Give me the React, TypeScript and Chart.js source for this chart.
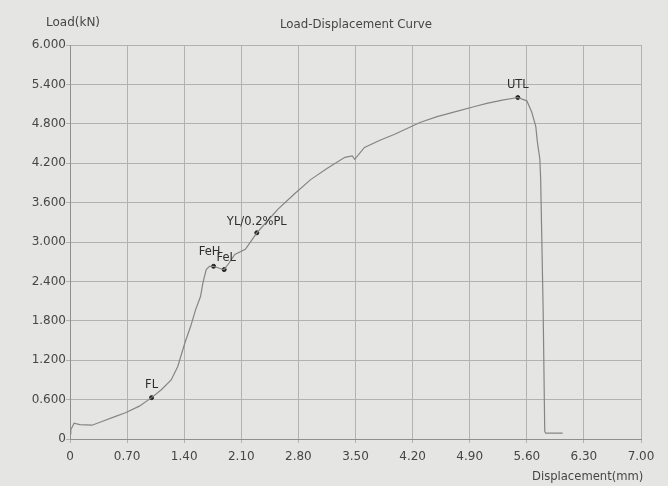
import React, { useEffect, useRef } from "react";
import { Chart, registerables } from "chart.js";

Chart.register(...registerables);

const displacement = [0, 0.01, 0.05, 0.12, 0.27, 0.4, 0.55, 0.68, 0.85, 1.0, 1.12, 1.24, 1.32, 1.41, 1.48, 1.54, 1.6, 1.63, 1.67, 1.71, 1.76, 1.83, 1.89, 1.95, 2.02, 2.15, 2.29, 2.42, 2.55, 2.75, 2.95, 3.15, 3.37, 3.46, 3.49, 3.61, 3.8, 3.98, 4.29, 4.5, 4.74, 4.95, 5.11, 5.3, 5.49, 5.6, 5.66, 5.71, 5.73, 5.76, 5.77, 5.8, 5.82, 5.83, 5.95, 6.04];
const load = [0.08, 0.14, 0.24, 0.22, 0.21, 0.27, 0.34, 0.4, 0.5, 0.63, 0.75, 0.9, 1.1, 1.47, 1.72, 1.97, 2.17, 2.38, 2.58, 2.63, 2.63, 2.6, 2.58, 2.68, 2.81, 2.89, 3.14, 3.32, 3.5, 3.73, 3.95, 4.12, 4.29, 4.31, 4.26, 4.44, 4.55, 4.64, 4.82, 4.91, 4.99, 5.06, 5.11, 5.16, 5.2, 5.15, 4.98, 4.76, 4.52, 4.26, 3.95, 2.0, 0.12, 0.09, 0.09, 0.09];

const markerNames = ["FL", "FeH", "FeL", "YL/0.2%PL", "UTL"];
const markerDisp = [1.0, 1.76, 1.89, 2.29, 5.49];
const markerLoad = [0.63, 2.63, 2.58, 3.14, 5.2];

const xTicks = [0, 0.7, 1.4, 2.1, 2.8, 3.5, 4.2, 4.9, 5.6, 6.3, 7.0];
const yTicks = [0, 0.6, 1.2, 1.8, 2.4, 3.0, 3.6, 4.2, 4.8, 5.4, 6.0];

const chartTitle = "Load-Displacement Curve";
const yTitle = "Load(kN)";
const xTitle = "Displacement(mm)";

const FONT = "'DejaVu Sans', sans-serif";
const TEXT = "#464646";

export default function App() {
  const ref = useRef<HTMLCanvasElement>(null);
  useEffect(() => {
    const canvas = ref.current!;
    const labelOffsets: Record<string, [number, number]> = {
      FL: [0, -13],
      FeH: [-4, -14],
      FeL: [2, -12],
      "YL/0.2%PL": [0, -11],
      UTL: [0, -13],
    };
    const decor = {
      id: "decor",
      beforeDraw(c: any) {
        const ctx = c.ctx;
        ctx.save();
        ctx.fillStyle = "#e5e6e3";
        ctx.fillRect(0, 0, c.width, c.height);
        ctx.restore();
      },
      afterDraw(c: any) {
        const ctx = c.ctx;
        ctx.save();
        ctx.fillStyle = TEXT;
        ctx.textBaseline = "middle";
        ctx.font = `11.8px ${FONT}`;
        ctx.textAlign = "center";
        ctx.fillText(chartTitle, 356, 25);
        ctx.font = `12px ${FONT}`;
        ctx.fillText(yTitle, 73, 23);
        ctx.font = `11.6px ${FONT}`;
        ctx.textAlign = "left";
        ctx.fillText(xTitle, 532, 477);
        const meta = c.getDatasetMeta(1);
        ctx.font = `11.5px ${FONT}`;
        ctx.fillStyle = "#2e2e2e";
        ctx.textAlign = "center";
        meta.data.forEach((p: any, i: number) => {
          const name = markerNames[i];
          const o = labelOffsets[name] || [0, -10];
          ctx.fillText(name, p.x + o[0], p.y + o[1]);
        });
        ctx.restore();
      },
    };
    const chart = new Chart(canvas, {
      type: "scatter",
      data: {
        datasets: [
          {
            data: displacement.map((d, i) => ({ x: d, y: load[i] })),
            showLine: true,
            borderColor: "#858585",
            borderWidth: 1.2,
            pointRadius: 0,
            tension: 0,
          },
          {
            data: markerDisp.map((d, i) => ({ x: d, y: markerLoad[i] })),
            showLine: false,
            pointRadius: 2,
            backgroundColor: "#222",
            borderColor: "#222",
          },
        ],
      },
      options: {
        animation: false,
        responsive: false,
        maintainAspectRatio: false,
        layout: { padding: { left: 0, right: 27, top: 45, bottom: 0 } },
        plugins: { legend: { display: false }, tooltip: { enabled: false }, title: { display: false } },
        scales: {
          x: {
            type: "linear",
            min: 0,
            max: 7,
            afterBuildTicks: (s: any) => {
              s.ticks = xTicks.map((v) => ({ value: v }));
            },
            afterFit: (s: any) => {
              s.height = 47;
            },
            grid: { color: "#b2b2b0", lineWidth: 1, tickLength: 4, drawTicks: true },
            border: { color: "#8f8f8d" },
            ticks: {
              autoSkip: false,
              maxRotation: 0,
              padding: 7,
              color: TEXT,
              font: { family: FONT, size: 12 },
              callback: (v: any) => (Number(v) === 0 ? "0" : Number(v).toFixed(2)),
            },
          },
          y: {
            type: "linear",
            min: 0,
            max: 6,
            afterBuildTicks: (s: any) => {
              s.ticks = yTicks.map((v) => ({ value: v }));
            },
            afterFit: (s: any) => {
              s.width = 70;
            },
            grid: { color: "#b2b2b0", lineWidth: 1, tickLength: 4, drawTicks: true },
            border: { color: "#8f8f8d" },
            ticks: {
              autoSkip: false,
              padding: 0,
              color: TEXT,
              font: { family: FONT, size: 12 },
              callback: (v: any) => (Number(v) === 0 ? "0" : Number(v).toFixed(3)),
            },
          },
        },
      },
      plugins: [decor],
    });
    return () => chart.destroy();
  }, []);
  return (
    <div style={{ position: "absolute", left: 0, top: 0, width: 668, height: 486 }}>
      <canvas ref={ref} width={668} height={486} style={{ width: 668, height: 486, display: "block" }} />
    </div>
  );
}
